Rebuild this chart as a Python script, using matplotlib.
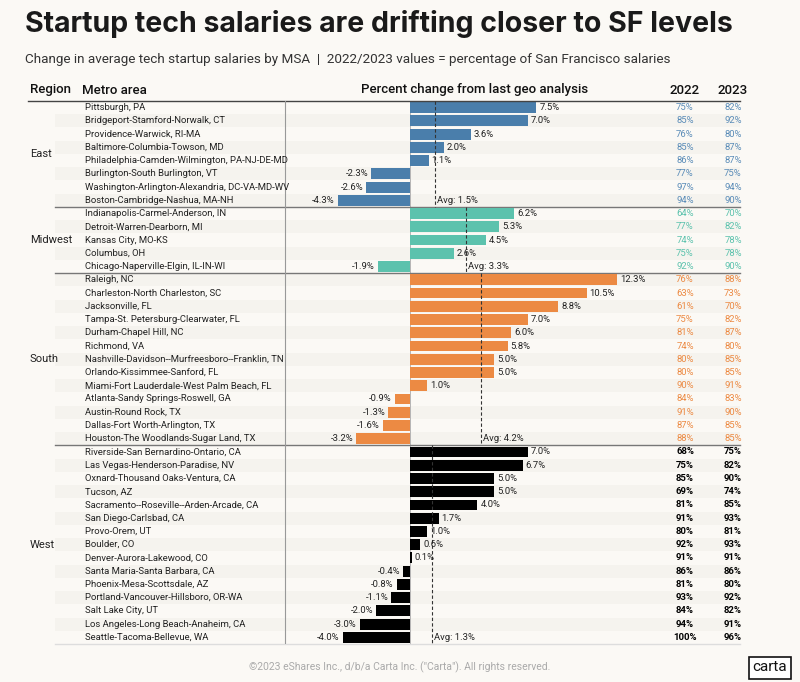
import matplotlib
matplotlib.use("Agg")
import matplotlib.pyplot as plt
from matplotlib.transforms import blended_transform_factory as btf
from matplotlib.patches import FancyBboxPatch

regions = ["East", "Midwest", "South", "West"]
metros = [
 ["Pittsburgh, PA","Bridgeport-Stamford-Norwalk, CT","Providence-Warwick, RI-MA","Baltimore-Columbia-Towson, MD","Philadelphia-Camden-Wilmington, PA-NJ-DE-MD","Burlington-South Burlington, VT","Washington-Arlington-Alexandria, DC-VA-MD-WV","Boston-Cambridge-Nashua, MA-NH"],
 ["Indianapolis-Carmel-Anderson, IN","Detroit-Warren-Dearborn, MI","Kansas City, MO-KS","Columbus, OH","Chicago-Naperville-Elgin, IL-IN-WI"],
 ["Raleigh, NC","Charleston-North Charleston, SC","Jacksonville, FL","Tampa-St. Petersburg-Clearwater, FL","Durham-Chapel Hill, NC","Richmond, VA","Nashville-Davidson--Murfreesboro--Franklin, TN","Orlando-Kissimmee-Sanford, FL","Miami-Fort Lauderdale-West Palm Beach, FL","Atlanta-Sandy Springs-Roswell, GA","Austin-Round Rock, TX","Dallas-Fort Worth-Arlington, TX","Houston-The Woodlands-Sugar Land, TX"],
 ["Riverside-San Bernardino-Ontario, CA","Las Vegas-Henderson-Paradise, NV","Oxnard-Thousand Oaks-Ventura, CA","Tucson, AZ","Sacramento--Roseville--Arden-Arcade, CA","San Diego-Carlsbad, CA","Provo-Orem, UT","Boulder, CO","Denver-Aurora-Lakewood, CO","Santa Maria-Santa Barbara, CA","Phoenix-Mesa-Scottsdale, AZ","Portland-Vancouver-Hillsboro, OR-WA","Salt Lake City, UT","Los Angeles-Long Beach-Anaheim, CA","Seattle-Tacoma-Bellevue, WA"],
]
changes = [
 [7.5,7.0,3.6,2.0,1.1,-2.3,-2.6,-4.3],
 [6.2,5.3,4.5,2.6,-1.9],
 [12.3,10.5,8.8,7.0,6.0,5.8,5.0,5.0,1.0,-0.9,-1.3,-1.6,-3.2],
 [7.0,6.7,5.0,5.0,4.0,1.7,1.0,0.6,0.1,-0.4,-0.8,-1.1,-2.0,-3.0,-4.0],
]
pct2022 = [
 [75,85,76,85,86,77,97,94],
 [64,77,74,75,92],
 [76,63,61,75,81,74,80,80,90,84,91,87,88],
 [68,75,85,69,81,91,80,92,91,86,81,93,84,94,100],
]
pct2023 = [
 [82,92,80,87,87,75,94,90],
 [70,82,78,78,90],
 [88,73,70,82,87,80,85,85,91,83,90,85,85],
 [75,82,90,74,85,93,81,93,91,86,80,92,82,91,96],
]
averages = [1.5, 3.3, 4.2, 1.3]
bar_colors = ["#4a7eab", "#5cc2ad", "#ec8a43", "#000000"]
text_colors = ["#5a8cb8", "#5cc2ad", "#ec8a43", "#000000"]

BG = "#fbf9f5"
W, H = 800, 682
fig = plt.figure(figsize=(8, 6.82), dpi=100, facecolor=BG)
plt.rcParams['font.family'] = ['Roboto', 'DejaVu Sans']

px = 16.83  # pixels per percent
zero = 410
ax = fig.add_axes([0, (H-644)/H, 1, (644-101)/H])
ax.set_facecolor("none")
ax.set_xlim(-zero/px, (W-zero)/px)
n = sum(len(c) for c in changes)
ax.set_ylim(n-0.5, -0.5)
ax.axis("off")
tr = btf(fig.transFigure, ax.transData)
fx = lambda p: p / W

fig.text(fx(25), 1-24/H, "Startup tech salaries are drifting closer to SF levels", fontsize=20.5,
         fontweight="bold", family=["Inter", "DejaVu Sans"], color="#1a1a1a", va="center")
fig.text(fx(25), 1-59/H, "Change in average tech startup salaries by MSA  |  2022/2023 values = percentage of San Francisco salaries",
         fontsize=9.7, color="#333333", va="center")
hy = 1-90/H
for x, s, ha in [(30, "Region", "left"), (82, "Metro area", "left"), (475, "Percent change from last geo analysis", "center"),
                 (685, "2022", "center"), (733, "2023", "center")]:
    fig.text(fx(x), hy, s, fontsize=9.5, fontweight="medium", color="#111111", ha=ha, va="center")

row = 0
for g in range(4):
    start = row
    k = len(changes[g])
    for i in range(k):
        r = row + i
        if r % 2 == 1:
            ax.fill_between([fx(55), fx(740)], r-0.5, r+0.5, transform=tr, color="#f5f3ee", lw=0, zorder=0)
        ax.text(fx(85), r, metros[g][i], transform=tr, fontsize=6.8, va="center", ha="left", color="#222222", clip_on=False)
        v = changes[g][i]
        ax.barh(r, v, height=0.82, left=0, color=bar_colors[g], zorder=2)
        lab = f"{v:.1f}%"
        if v >= 0:
            ax.text(v + 3/px, r, lab, fontsize=6.8, va="center", ha="left", color="#222222", zorder=4)
        else:
            ax.text(v - 3/px, r, lab, fontsize=6.8, va="center", ha="right", color="#222222", zorder=4)
        fw = "bold" if g == 3 else "normal"
        ax.text(fx(685), r, f"{pct2022[g][i]}%", transform=tr, fontsize=6.8, ha="center", va="center", color=text_colors[g], fontweight=fw)
        ax.text(fx(733), r, f"{pct2023[g][i]}%", transform=tr, fontsize=6.8, ha="center", va="center", color=text_colors[g], fontweight=fw)
    end = row + k - 1
    ax.plot([averages[g]]*2, [start-0.5, end+0.5], color="#333333", lw=0.8, ls=(0, (3, 2)), zorder=3)
    ax.text(averages[g] + 2/px, end, f"Avg: {averages[g]:.1f}%", fontsize=6.8, va="center", ha="left", color="#222222", zorder=4)
    ax.text(fx(30), (start+end)/2, regions[g], transform=tr, fontsize=8, va="center", ha="left", color="#222222")
    ax.plot([fx(55), fx(740)], [end+0.5]*2, transform=tr, color="#777777" if g < 3 else "#dddddd", lw=1.0, clip_on=False)
    row += k

ax.plot([fx(28), fx(740)], [-0.5, -0.5], transform=tr, color="#444444", lw=1.0, clip_on=False)
ax.plot([fx(285), fx(285)], [-0.5, n-0.5], transform=tr, color="#999999", lw=0.8)
ax.plot([0, 0], [-0.5, n-0.5], color="#aaaaaa", lw=0.6, zorder=1)

fig.text(0.5, 1-667/H, "©2023 eShares Inc., d/b/a Carta Inc. (\"Carta\"). All rights reserved.", fontsize=7.5,
         color="#aaaaaa", ha="center", va="center")
box = FancyBboxPatch((fx(749), 1-679/H), fx(42), 22/H, boxstyle="square,pad=0", transform=fig.transFigure,
                     facecolor="white", edgecolor="#111111", lw=1.2)
fig.patches.append(box)
fig.text(fx(770), 1-667/H, "carta", fontsize=11, ha="center", va="center", color="#111111")

fig.savefig("out.png", dpi=100, facecolor=BG)
